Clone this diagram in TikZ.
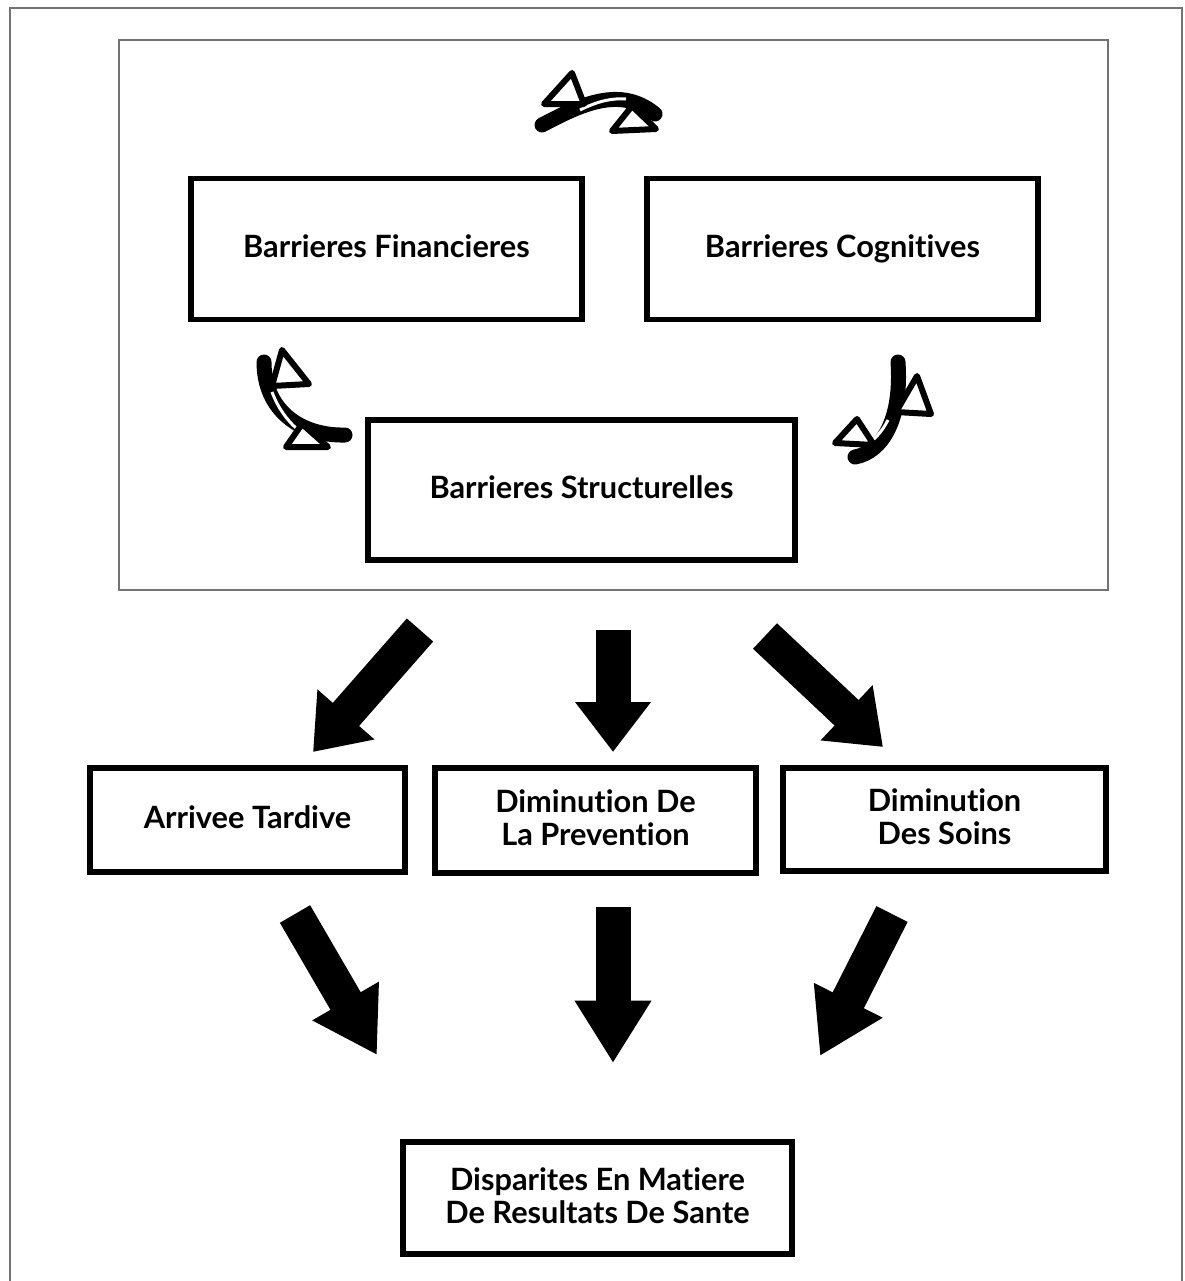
\documentclass[tikz,border=0pt]{standalone}
\usepackage{fontspec}
\setmainfont{Lato}[Ligatures={NoCommon,NoRequired,NoContextual}]
\usetikzlibrary{arrows.meta}
\newcommand\lnstrut{\vphantom{Bg}}
\tikzset{
  box/.style={draw=black, line width=5.5*0.02cm, fill=white, align=center,
    font=\bfseries\fontsize{17.5}{18.8}\selectfont, inner sep=0pt},
  frame/.style={draw=black!55, line width=1.6*0.02cm},
  blk/.style={line width=0.70cm, -{Triangle[length=1.0cm,width=1.45cm]}},
  blkb/.style={line width=0.70cm, -{Triangle[length=1.25cm,width=1.45cm]}},
  curveband/.style={line width=15*0.02cm, line cap=round},
  curvegap/.style={draw=white, line width=3*0.02cm},
  tri/.style={draw=black, fill=white, line width=6*0.02cm, line join=round},
}
\begin{document}
\begin{tikzpicture}[x=0.02cm,y=-0.02cm]
\useasboundingbox (0,0) rectangle (1184,1281);
\fill[white] (0,0) rectangle (1184,1281);
% frames
\draw[frame] (10,1290) -- (10,8) -- (1182,8) -- (1182,1290);
\draw[frame] (119,40) rectangle (1108,590);
% boxes
\node[box, minimum width=7.82cm, minimum height=2.82cm] (bf) at (386.5,249) {\lnstrut Barrieres Financieres};
\node[box, minimum width=7.82cm, minimum height=2.82cm] (bc) at (842.5,249) {\lnstrut Barrieres Cognitives};
\node[box, minimum width=8.54cm, minimum height=2.80cm] (bs) at (581.5,490) {\lnstrut Barrieres Structurelles};
\node[box, minimum width=6.30cm, minimum height=2.08cm] (at) at (247.5,820) {\lnstrut Arrivee Tardive};
\node[box, minimum width=6.42cm, minimum height=2.10cm] (dp) at (595.5,820.5) {\lnstrut Diminution De\\\lnstrut La Prevention};
\node[box, minimum width=6.46cm, minimum height=2.06cm] (ds) at (944.5,819.5) {\lnstrut Diminution\\\lnstrut Des Soins};
\node[box, minimum width=7.78cm, minimum height=2.24cm] (dr) at (597.5,1198) {\lnstrut Disparites En Matiere\\\lnstrut De Resultats De Sante};
% block arrows
\coordinate (a1s) at (420,630); \coordinate (a1e) at (313,752);
\coordinate (a2s) at (613,630); \coordinate (a2e) at (613,752);
\coordinate (a3s) at (765,636); \coordinate (a3e) at (883,747);
\coordinate (b1s) at (295,914); \coordinate (b1e) at (377,1055);
\coordinate (b2s) at (613,907); \coordinate (b2e) at (613,1063);
\coordinate (b3s) at (892,914); \coordinate (b3e) at (820,1056);
\draw[blk] (a1s) -- (a1e);
\draw[blk] (a2s) -- (a2e);
\draw[blk] (a3s) -- (a3e);
\draw[blkb] (b1s) -- (b1e);
\draw[blkb] (b2s) -- (b2e);
\draw[blkb] (b3s) -- (b3e);
% curved double arrows (top)
\draw[curveband] (542,125) .. controls (580,105) and (620,85) .. (655,114);
\draw[curvegap] (580,110) .. controls (598,101) and (612,98) .. (626,99);
\draw[tri] (544,104) -- (572,73) -- (584,104) -- cycle;
\draw[tri] (612,131) -- (632,106) -- (656,129) -- cycle;
% left
\draw[curveband] (264,362) .. controls (264,410) and (300,436) .. (345,435);
\draw[curvegap] (272,392) .. controls (278,408) and (287,420) .. (296,428);
\draw[tri] (272,386) -- (282,350) -- (309,384) -- cycle;
\draw[tri] (286,447) -- (302,424) -- (328,447) -- cycle;
% right
\draw[curveband] (898,362) .. controls (902,420) and (882,452) .. (855,457);
\draw[curvegap] (888,420) .. controls (882,432) and (874,440) .. (866,445);
\draw[tri] (896,412) -- (917,376) -- (931,414) -- cycle;
\draw[tri] (835,443) -- (857,419) -- (874,445) -- cycle;
\end{tikzpicture}
\end{document}
